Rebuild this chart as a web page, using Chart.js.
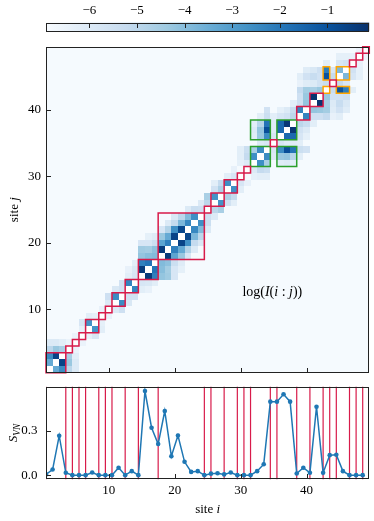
<!DOCTYPE html>
<html>
<head>
<meta charset="utf-8">
<script src="https://cdn.jsdelivr.net/npm/chart.js@4.4.1/dist/chart.umd.min.js"></script>
<style>
  html, body { margin: 0; padding: 0; background: #fff; }
  #wrap { position: relative; width: 374px; height: 521px; overflow: hidden; }
  canvas { position: absolute; left: 0; }
</style>
</head>
<body>
<div id="wrap">
  <canvas id="cbar" width="374" height="40" style="top:0px"></canvas>
  <canvas id="heat" width="374" height="355" style="top:32px"></canvas>
  <canvas id="svn" width="374" height="151" style="top:370px"></canvas>
</div>
<script>
// ---- data ----
const sites = Array.from({ length: 49 }, (_, k) => k + 1);

// von Neumann entropy per site
const svn = [0.005, 0.038, 0.266, 0.016, 0.0, 0.0, 0.0, 0.018, 0.0, 0.0,
             0.0, 0.05, 0.0, 0.027, 0.0, 0.568, 0.32, 0.21, 0.433, 0.128,
             0.268, 0.09, 0.022, 0.027, 0.0, 0.01, 0.013, 0.005, 0.018, 0.0,
             0.0, 0.0, 0.027, 0.074, 0.496, 0.496, 0.546, 0.496, 0.011, 0.05,
             0.016, 0.462, 0.016, 0.135, 0.138, 0.027, 0.0, 0.0, 0.0];

// cluster boundaries (vertical lines in the lower panel)
const blockEdges = [0.5, 3.5, 4.5, 5.5, 6.5, 8.5, 9.5, 10.5, 12.5, 14.5, 17.5,
                    24.5, 25.5, 27.5, 29.5, 30.5, 31.5, 34.5, 35.5, 38.5, 40.5,
                    42.5, 43.5, 44.5, 46.5, 47.5, 48.5];

// clusters outlined on the matrix
const redBlocks = [[1, 3], [4, 4], [5, 5], [6, 6], [7, 8], [9, 9], [10, 10], [11, 12],
                   [13, 14], [15, 17], [18, 24], [25, 25], [26, 27], [28, 29], [30, 30],
                   [31, 31], [35, 35], [39, 40], [41, 42], [44, 44], [47, 47], [48, 48], [49, 49]];
const greenBlocks = [[32, 34], [36, 38]];
const orangeBlocks = [[43, 43], [45, 46]];

// log mutual information, [i, j, log I(i:j)], i < j; everything else sits at the floor
const miPairs = [
  [1, 2, -3.4], [1, 3, -2.5], [2, 3, -0.6],
  [1, 4, -5.0], [2, 4, -4.3], [3, 4, -4.6], [1, 5, -6.0], [2, 5, -6.0], [3, 5, -6.2], [4, 5, -6.5],
  [5, 6, -6.5], [6, 7, -6.3], [6, 8, -5.8], [7, 8, -2.7], [7, 9, -6.2], [8, 9, -6.3], [9, 10, -6.4],
  [10, 11, -6.0], [10, 12, -5.5], [11, 12, -2.5], [11, 13, -5.9], [12, 13, -5.6],
  [12, 14, -5.6], [13, 14, -2.3], [13, 15, -6.2], [14, 15, -5.8], [14, 16, -5.9], [14, 17, -6.2], [13, 16, -6.4],
  [15, 16, -0.4], [15, 17, -2.2], [16, 17, -1.9],
  [15, 18, -4.2], [16, 18, -4.0], [17, 18, -3.9], [15, 19, -4.4], [16, 19, -4.5], [17, 19, -4.1],
  [15, 20, -5.8], [16, 20, -5.8], [17, 20, -5.4], [16, 21, -6.3], [17, 21, -6.1],
  [18, 19, -0.4], [18, 20, -3.2], [19, 20, -2.2], [18, 21, -4.3], [19, 21, -3.4], [20, 21, -0.6],
  [18, 22, -5.8], [19, 22, -4.8], [20, 22, -2.6], [21, 22, -0.7],
  [19, 23, -6.0], [20, 23, -5.2], [21, 23, -3.8], [22, 23, -2.4],
  [20, 24, -5.9], [21, 24, -5.0], [22, 24, -3.9], [23, 24, -2.6],
  [22, 25, -6.0], [23, 25, -5.4], [24, 25, -5.5], [24, 26, -6.0],
  [25, 26, -5.0], [25, 27, -4.6], [26, 27, -2.7], [26, 28, -5.6], [27, 28, -4.7], [27, 29, -5.2], [26, 29, -6.2],
  [28, 29, -2.6], [28, 30, -6.2], [29, 30, -5.8], [29, 31, -6.4],
  [30, 32, -6.3], [31, 32, -6.0], [30, 33, -6.2], [31, 33, -5.2], [30, 34, -6.2], [31, 34, -5.4],
  [32, 33, -2.6], [32, 34, -4.6], [33, 34, -2.5],
  [33, 35, -6.0], [34, 35, -5.8], [35, 36, -5.8], [35, 37, -6.1], [35, 38, -6.1],
  [32, 36, -6.1], [32, 37, -6.0], [32, 38, -6.2],
  [33, 36, -4.3], [33, 37, -4.2], [33, 38, -4.9],
  [34, 36, -2.5], [34, 37, -0.9], [34, 38, -1.9],
  [36, 37, -1.6], [36, 38, -1.6], [37, 38, -0.3],
  [33, 39, -6.2], [34, 39, -5.4], [34, 40, -5.6], [35, 39, -6.2],
  [36, 39, -5.8], [37, 39, -5.6], [38, 39, -5.0], [36, 40, -6.3], [37, 40, -6.0], [38, 40, -5.3], [38, 41, -6.2],
  [39, 40, -2.3], [39, 41, -5.5], [40, 41, -4.2], [39, 42, -5.5], [40, 42, -4.3],
  [39, 43, -5.2], [40, 43, -4.5], [41, 43, -4.6], [42, 43, -4.3],
  [41, 42, -0.2],
  [39, 44, -6.4], [40, 44, -6.1], [41, 44, -6.0], [42, 44, -5.6], [43, 44, -5.3],
  [39, 45, -6.2], [40, 45, -5.6], [41, 45, -5.3], [42, 45, -5.6], [44, 45, -5.2],
  [40, 46, -6.1], [41, 46, -5.9], [42, 46, -5.5], [44, 46, -5.8],
  [43, 45, -1.0], [43, 46, -2.1], [45, 46, -3.8],
  [43, 47, -6.2], [45, 47, -5.8], [46, 47, -5.6], [45, 48, -6.3], [46, 48, -6.3], [47, 48, -6.4], [48, 49, -6.5]
];
const miFloor = -6.85;

const cbRange = [-6.91, -0.12];
const cbTicks = [-6, -5, -4, -3, -2, -1];
const siteTicks = [10, 20, 30, 40];
const svnTicks = [0.0, 0.3];
const svnRange = [-0.028, 0.597];

// ---- styling ----
const serif = '"Liberation Serif", "DejaVu Serif", serif';
const blues = ['#f7fbff', '#deebf7', '#c6dbef', '#9ecae1', '#6baed6', '#4292c6', '#2171b5', '#08519c', '#08306b'];
const red = '#d81b4a';

function hexRgb(h) {
  return [1, 3, 5].map(k => parseInt(h.substr(k, 2), 16));
}
const bluesRgb = blues.map(hexRgb);

function blueAt(v) {
  let t = (v - cbRange[0]) / (cbRange[1] - cbRange[0]);
  t = Math.max(0, Math.min(1, t));
  const p = t * 8;
  const k = Math.min(7, Math.floor(p));
  const f = p - k;
  const a = bluesRgb[k], b = bluesRgb[k + 1];
  const c = a.map((u, n) => Math.round(u + (b[n] - u) * f));
  return 'rgb(' + c.join(',') + ')';
}

// full symmetric matrix from the pair list
const mi = sites.map(i => sites.map(j => (i === j ? NaN : miFloor)));
miPairs.forEach(([i, j, v]) => { mi[i - 1][j - 1] = v; mi[j - 1][i - 1] = v; });

function outline(group, diagonalOnly) {
  const pts = [];
  group.forEach(A => {
    group.forEach(B => {
      if (diagonalOnly && A !== B) return;
      const x0 = A[0] - 0.5, x1 = A[1] + 0.5, y0 = B[0] - 0.5, y1 = B[1] + 0.5;
      pts.push({ x: x0, y: y0 }, { x: x1, y: y0 }, { x: x1, y: y1 }, { x: x0, y: y1 }, { x: x0, y: y0 }, { x: x0, y: NaN });
    });
  });
  return pts;
}

function drawRich(ctx, parts, x, y, size, rot) {
  ctx.save();
  ctx.translate(x, y);
  ctx.rotate(rot || 0);
  const fontOf = st => (st.includes('i') ? 'italic ' : '') + (st.includes('s') ? size * 0.72 : size) + 'px ' + serif;
  let w = 0;
  parts.forEach(([t, st]) => { ctx.font = fontOf(st); w += ctx.measureText(t).width; });
  let cx = -w / 2;
  ctx.fillStyle = '#000';
  ctx.textBaseline = 'alphabetic';
  parts.forEach(([t, st]) => {
    ctx.font = fontOf(st);
    ctx.fillText(t, cx, size * 0.33 + (st.includes('s') ? size * 0.28 : 0));
    cx += ctx.measureText(t).width;
  });
  ctx.restore();
}

function frameAndTicks(spec) {
  return {
    id: 'frameAndTicks',
    afterDraw(chart) {
      const { ctx, chartArea: a } = chart;
      const l = Math.round(a.left) + 0.5, r = Math.round(a.right) - 0.5;
      const t = Math.round(a.top) + 0.5, b = Math.round(a.bottom) - 0.5;
      ctx.save();
      ctx.strokeStyle = '#222';
      ctx.lineWidth = 1;
      ctx.strokeRect(l, t, r - l, b - t);
      spec.forEach(([id, edge]) => {
        const s = chart.scales[id];
        s.ticks.forEach(tk => {
          const p = Math.round(s.getPixelForValue(tk.value)) + 0.5;
          ctx.beginPath();
          if (edge === 'left') { ctx.moveTo(l, p); ctx.lineTo(l + 4.5, p); }
          if (edge === 'bottom') { ctx.moveTo(p, b); ctx.lineTo(p, b - 4.5); }
          if (edge === 'top') { ctx.moveTo(p, t); ctx.lineTo(p, t + 4.5); }
          ctx.stroke();
        });
      });
      ctx.restore();
    }
  };
}

function fixedTicks(list) {
  return s => { s.ticks = list.map(v => ({ value: v })); };
}

const tickFont = { family: serif, size: 13 };

// ---- colour bar ----
new Chart(document.getElementById('cbar'), {
  type: 'bar',
  data: {
    labels: [''],
    datasets: [{
      data: [cbRange],
      backgroundColor: c => {
        const a = c.chart.chartArea;
        if (!a) return blues[4];
        const g = c.chart.ctx.createLinearGradient(a.left, 0, a.right, 0);
        blues.forEach((col, k) => g.addColorStop(k / 8, col));
        return g;
      },
      borderWidth: 0,
      barPercentage: 1,
      categoryPercentage: 1
    }]
  },
  options: {
    indexAxis: 'y',
    responsive: false,
    animation: false,
    devicePixelRatio: 1,
    layout: { padding: { left: 46, right: 4.7, top: 0, bottom: 8.5 } },
    plugins: { legend: { display: false }, tooltip: { enabled: false } },
    scales: {
      x: {
        type: 'linear',
        position: 'top',
        min: cbRange[0],
        max: cbRange[1],
        afterBuildTicks: fixedTicks(cbTicks),
        afterFit: s => { s.height = 22.5; },
        grid: { display: false, drawTicks: false },
        border: { display: false },
        ticks: { padding: 4, color: '#000', font: tickFont, callback: v => '\u2212' + Math.abs(v) }
      },
      y: { display: false }
    }
  },
  plugins: [frameAndTicks([['x', 'top']])]
});

// ---- mutual information matrix ----
const heatCells = {
  id: 'heatCells',
  beforeDatasetsDraw(chart) {
    const { ctx, scales: { x, y } } = chart;
    ctx.save();
    sites.forEach(i => {
      const x0 = Math.round(x.getPixelForValue(i - 0.5));
      const x1 = Math.round(x.getPixelForValue(i + 0.5));
      sites.forEach(j => {
        const v = mi[i - 1][j - 1];
        if (isNaN(v)) return;
        const y0 = Math.round(y.getPixelForValue(j + 0.5));
        const y1 = Math.round(y.getPixelForValue(j - 0.5));
        ctx.fillStyle = blueAt(v);
        ctx.fillRect(x0, y0, x1 - x0, y1 - y0);
      });
    });
    ctx.restore();
  }
};

const heatLabels = {
  id: 'heatLabels',
  afterDraw(chart) {
    const { ctx, chartArea: a } = chart;
    drawRich(ctx, [['site ', ''], ['j', 'i']], 14, (a.top + a.bottom) / 2, 13, -Math.PI / 2);
    drawRich(ctx, [['log(', ''], ['I', 'i'], ['(', ''], ['i', 'i'], [' : ', ''], ['j', 'i'], ['))', '']],
      a.left + 0.7 * (a.right - a.left), a.bottom - 0.25 * (a.bottom - a.top), 14, 0);
  }
};

const squareStyle = { showLine: true, pointRadius: 0, borderJoinStyle: 'miter', borderCapStyle: 'square', clip: false };

new Chart(document.getElementById('heat'), {
  type: 'scatter',
  data: {
    datasets: [
      Object.assign({ data: outline(redBlocks, true), borderColor: red, borderWidth: 1.5 }, squareStyle),
      Object.assign({ data: outline(greenBlocks, false), borderColor: '#2ca02c', borderWidth: 1.5 }, squareStyle),
      Object.assign({ data: outline(orangeBlocks, false), borderColor: '#ffa500', borderWidth: 1.5 }, squareStyle)
    ]
  },
  options: {
    responsive: false,
    animation: false,
    devicePixelRatio: 1,
    layout: { padding: { left: 0, right: 4.7, top: 14.7, bottom: 14.3 } },
    plugins: { legend: { display: false }, tooltip: { enabled: false } },
    scales: {
      x: {
        type: 'linear', min: 0.5, max: 49.5,
        afterBuildTicks: fixedTicks(siteTicks),
        afterFit: s => { s.height = 0; },
        grid: { display: false, drawTicks: false },
        border: { display: false },
        ticks: { display: false }
      },
      y: {
        type: 'linear', min: 0.5, max: 49.5,
        afterBuildTicks: fixedTicks(siteTicks),
        afterFit: s => { s.width = 46; },
        grid: { display: false, drawTicks: false },
        border: { display: false },
        ticks: { padding: 5, color: '#000', font: tickFont }
      }
    }
  },
  plugins: [heatCells, frameAndTicks([['x', 'bottom'], ['y', 'left']]), heatLabels]
});

// ---- entanglement entropy panel ----
const edgeLines = [];
blockEdges.forEach(e => { edgeLines.push({ x: e, y: -1 }, { x: e, y: 2 }, { x: e, y: NaN }); });

const svnLabels = {
  id: 'svnLabels',
  afterDraw(chart) {
    const { ctx, chartArea: a } = chart;
    drawRich(ctx, [['S', 'i'], ['VN', 'is']], 12.5, (a.top + a.bottom) / 2, 13, -Math.PI / 2);
    drawRich(ctx, [['site ', ''], ['i', 'i']], (a.left + a.right) / 2, a.bottom + 29.7, 13, 0);
  }
};

new Chart(document.getElementById('svn'), {
  type: 'scatter',
  data: {
    datasets: [
      {
        data: sites.map((s, k) => ({ x: s - 0.5, y: svn[k] })),
        showLine: true,
        borderColor: '#1f77b4',
        backgroundColor: '#1f77b4',
        borderWidth: 1.5,
        pointRadius: 2.3,
        pointBorderWidth: 0,
        clip: 0,
        order: 0
      },
      {
        data: edgeLines,
        showLine: true,
        borderColor: red,
        borderWidth: 1.2,
        pointRadius: 0,
        clip: 0,
        order: 1
      }
    ]
  },
  options: {
    responsive: false,
    animation: false,
    devicePixelRatio: 1,
    layout: { padding: { left: 0, right: 4.7, top: 16.7, bottom: 21.7 } },
    plugins: { legend: { display: false }, tooltip: { enabled: false } },
    scales: {
      x: {
        type: 'linear', min: 0.5, max: 49.5,
        afterBuildTicks: fixedTicks(siteTicks),
        afterFit: s => { s.height = 20; },
        grid: { display: false, drawTicks: false },
        border: { display: false },
        ticks: { padding: 3, color: '#000', font: tickFont }
      },
      y: {
        type: 'linear', min: svnRange[0], max: svnRange[1],
        afterBuildTicks: fixedTicks(svnTicks),
        afterFit: s => { s.width = 46; },
        grid: { display: false, drawTicks: false },
        border: { display: false },
        ticks: { padding: 8.5, color: '#000', font: tickFont, callback: v => v.toFixed(1) }
      }
    }
  },
  plugins: [frameAndTicks([['x', 'bottom'], ['y', 'left']]), svnLabels]
});
</script>
</body>
</html>
